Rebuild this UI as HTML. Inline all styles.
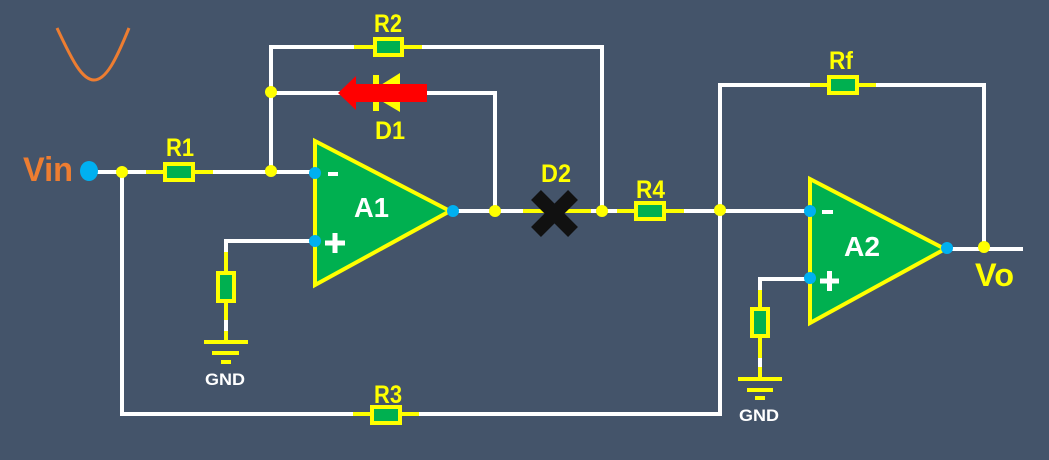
<!DOCTYPE html>
<html>
<head>
<meta charset="utf-8">
<style>
html,body{margin:0;padding:0;background:#44546A;width:1049px;height:460px;overflow:hidden}
svg{display:block}
text{font-family:"Liberation Sans",sans-serif;font-weight:bold;text-anchor:middle}
.y{fill:#FFFF00;font-size:25px}
.w{fill:#FFFFFF}
.wire{stroke:#fff;stroke-width:4;fill:none}
.lead{stroke:#FFFF00;stroke-width:4;fill:none}
.res{fill:#00B050;stroke:#FFFF00;stroke-width:4}
.tri{fill:#00B050;stroke:#FFFF00;stroke-width:4;stroke-linejoin:miter}
</style>
</head>
<body>
<svg width="1049" height="460" viewBox="0 0 1049 460" xmlns="http://www.w3.org/2000/svg">
<rect width="1049" height="460" fill="#44546A"/>

<!-- parabola -->
<path d="M57 28 C72 60 82 80 94 80 C106 80 116 60 129 28" fill="none" stroke="#ED7D31" stroke-width="3"/>

<!-- wires -->
<path class="wire" d="M89 172H315M271 172V47H602V211"/>
<path class="wire" d="M271 93H495V211"/>
<path class="wire" d="M453 211H810"/>
<path class="wire" d="M122 172V414H720V85H984V248"/>
<path class="wire" d="M947 249H1023"/>
<path class="wire" d="M315 241H226V320"/>
<path class="wire" d="M810 279H760V358"/>
<path class="wire" d="M226 320V331M760 358V367"/>

<!-- op amps -->
<polygon class="tri" points="315,141 315,285 450,211"/>
<polygon class="tri" points="810,179 810,323 945,249"/>

<!-- resistor leads -->
<path class="lead" d="M146 172H213M354 47H422M353 414H419M617 211H684M810 85H876M226 252V320M226 331V342M760 290V358M760 367V379"/>
<path class="lead" d="M523 211H591"/>

<!-- resistors -->
<rect class="res" x="165" y="164" width="28" height="16"/>
<rect class="res" x="375" y="39" width="27" height="16"/>
<rect class="res" x="372" y="407" width="28" height="16"/>
<rect class="res" x="636" y="203" width="28" height="16"/>
<rect class="res" x="829" y="77" width="28" height="16"/>
<rect class="res" x="218" y="273" width="16" height="28"/>
<rect class="res" x="752" y="309" width="16" height="27"/>

<!-- grounds -->
<path class="lead" d="M204 342H248M212 353H239M221 362H231"/>
<path class="lead" d="M738 379H782M747 390H773M755 398H765"/>

<!-- D1 -->
<polygon points="368,93 400,73 400,112" fill="#FFFF00"/>
<rect x="373" y="75" width="6" height="36" fill="#FFFF00"/>
<polygon points="338,93 356,76 356,84 427,84 427,102 356,102 356,110" fill="#FF0000"/>

<!-- D2 X -->
<path d="M536 195L573 232M573 195L536 232" stroke="#111111" stroke-width="14" fill="none"/>

<!-- junctions -->
<g fill="#FFFF00">
<circle cx="122" cy="172" r="6"/>
<circle cx="271" cy="171" r="6"/>
<circle cx="271" cy="92" r="6"/>
<circle cx="495" cy="211" r="6"/>
<circle cx="602" cy="211" r="6"/>
<circle cx="720" cy="210" r="6"/>
<circle cx="984" cy="247" r="6"/>
</g>
<g fill="#00B0F0">
<ellipse cx="89" cy="171" rx="9" ry="10"/>
<circle cx="315" cy="173" r="6"/>
<circle cx="315" cy="241" r="6"/>
<circle cx="453" cy="211" r="6"/>
<circle cx="810" cy="211" r="6"/>
<circle cx="810" cy="278" r="6"/>
<circle cx="947" cy="248" r="6"/>
</g>

<!-- labels -->
<text x="48" y="181" fill="#ED7D31" style="font-size:34px" textLength="50" lengthAdjust="spacingAndGlyphs">Vin</text>
<text class="y" x="180" y="156" textLength="28" lengthAdjust="spacingAndGlyphs">R1</text>
<text class="y" x="388" y="32" textLength="28" lengthAdjust="spacingAndGlyphs">R2</text>
<text class="y" x="388" y="403" textLength="28" lengthAdjust="spacingAndGlyphs">R3</text>
<text class="y" x="650.5" y="198" textLength="29" lengthAdjust="spacingAndGlyphs">R4</text>
<text class="y" x="841" y="69" textLength="24" lengthAdjust="spacingAndGlyphs">Rf</text>
<text class="y" x="390" y="139" textLength="30" lengthAdjust="spacingAndGlyphs">D1</text>
<text class="y" x="556" y="182" textLength="30" lengthAdjust="spacingAndGlyphs">D2</text>
<text class="y" x="994.5" y="286" style="font-size:32px" textLength="39" lengthAdjust="spacingAndGlyphs">Vo</text>
<text class="w" x="371.5" y="217" style="font-size:28px" textLength="35" lengthAdjust="spacingAndGlyphs">A1</text>
<text class="w" x="862" y="256" style="font-size:28px" textLength="36" lengthAdjust="spacingAndGlyphs">A2</text>
<text class="w" x="225" y="385" style="font-size:17px" textLength="40" lengthAdjust="spacingAndGlyphs">GND</text>
<text class="w" x="759" y="421" style="font-size:17px" textLength="40" lengthAdjust="spacingAndGlyphs">GND</text>

<!-- op amp signs -->
<g fill="#fff">
<rect x="328" y="172" width="10" height="4"/>
<rect x="325" y="240.5" width="20" height="5"/><rect x="332.5" y="233" width="5" height="20"/>
<rect x="822" y="210" width="11" height="4"/>
<rect x="820" y="278.5" width="19" height="5"/><rect x="827" y="271" width="5" height="20"/>
</g>
</svg>
</body>
</html>
